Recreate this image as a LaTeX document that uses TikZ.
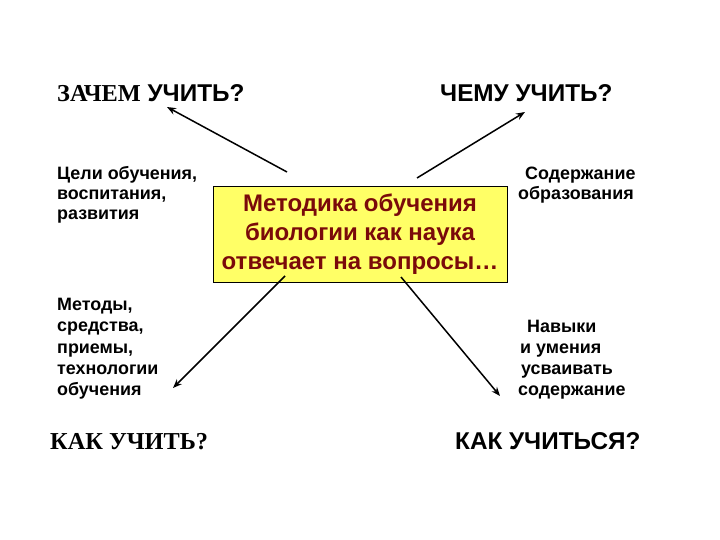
\documentclass[tikz,border=0pt]{standalone}
\usepackage{fontspec}
\setmainfont{Liberation Sans}
\newfontfamily\serifbf{Liberation Serif}
\usetikzlibrary{arrows.meta}
\definecolor{boxyellow}{HTML}{FFFF66}
\definecolor{boxtext}{HTML}{7A0A0A}
\tikzset{
  qhead/.style={font=\fontsize{24.3}{28}\selectfont\bfseries, inner sep=0pt, anchor=base west},
  tline/.style={font=\fontsize{17.9}{21}\selectfont\bfseries, inner sep=0pt, anchor=base west},
  arr/.style={line width=1.5pt, -{Stealth[length=9pt,width=7pt]}},
  mbox/.style={draw=black, line width=0.8pt, fill=boxyellow, text=boxtext, align=center,
     font=\fontsize{24}{29}\selectfont\bfseries, minimum width=294pt, minimum height=96pt, inner sep=0pt}
}
\begin{document}
\begin{tikzpicture}[x=1pt,y=-1pt]
\useasboundingbox (0,0) rectangle (720,540);
% headings
\node[qhead] (why) at (57,102) {{\serifbf ЗАЧЕМ} УЧИТЬ?};
\node[qhead] (what) at (440,102) {ЧЕМУ УЧИТЬ?};
\node[qhead] (how) at (50,449) {{\serifbf КАК УЧИТЬ?}};
\node[qhead] (howl) at (455,449) {КАК УЧИТЬСЯ?};
% centre box
\node[mbox] (m) at (360,234) {Методика обучения\\биологии как наука\\отвечает на вопросы\dots};
% side texts
\node[tline] (g1) at (57,180) {Цели обучения,};
\node[tline] (g2) at (57,200) {воспитания,};
\node[tline] (g3) at (57,220) {развития};
\node[tline] (t1) at (57,310) {Методы,};
\node[tline] (t2) at (57,331) {средства,};
\node[tline] (t3) at (57,353) {приемы,};
\node[tline] (t4) at (57,374) {технологии};
\node[tline] (t5) at (57,395) {обучения};
\node[tline] (c1) at (525,180) {Содержание};
\node[tline] (c2) at (518,200) {образования};
\node[tline] (s1) at (527,332) {Навыки};
\node[tline] (s2) at (520,353) {и умения};
\node[tline] (s3) at (521,374) {усваивать};
\node[tline] (s4) at (518,395) {содержание};
% arrow coordinates
\coordinate (a1s) at (287,172);
\coordinate (a1e) at (167,107);
\coordinate (a2s) at (417,178);
\coordinate (a2e) at (525,112);
\coordinate (a3s) at (285,276);
\coordinate (a3e) at (173,388);
\coordinate (a4s) at (401,277);
\coordinate (a4e) at (500,396);
\draw[arr] (a1s) -- (a1e);
\draw[arr] (a2s) -- (a2e);
\draw[arr] (a3s) -- (a3e);
\draw[arr] (a4s) -- (a4e);
\end{tikzpicture}
\end{document}
